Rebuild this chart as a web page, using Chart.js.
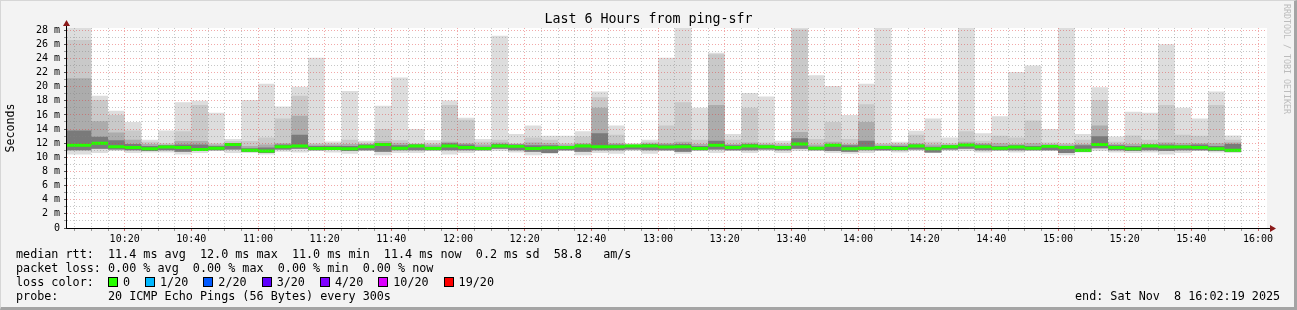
<!DOCTYPE html>
<html>
<head>
<meta charset="utf-8">
<title>Last 6 Hours from ping-sfr</title>
<script src="https://cdn.jsdelivr.net/npm/chart.js@4.4.1/dist/chart.umd.min.js"></script>
<style>
  html, body { margin: 0; padding: 0; }
  body { width: 1297px; height: 310px; overflow: hidden; background: #f3f3f3; font-family: "DejaVu Sans Mono", monospace; }
  #frame { position: absolute; left: 0; top: 0; width: 1297px; height: 310px; box-sizing: border-box;
           border-top: 1px solid #d6d6d6; border-left: 1px solid #d6d6d6;
           border-right: 3px solid #a4a4a4; border-bottom: 3px solid #a4a4a4; pointer-events: none; }
  #chart { position: absolute; left: 0; top: 0; }
  .txt { position: absolute; white-space: pre; color: #000; font-size: 11.75px; line-height: 14px; }
  #title { left: 0; width: 1297px; top: 11px; text-align: center; font-size: 13.3px; line-height: 16px; }
  #ylabel { left: 10px; top: 128px; transform: translate(-50%, -50%) rotate(-90deg); font-size: 11.6px; }
  #vendor { left: 1282px; top: 4px; writing-mode: vertical-rl; font-size: 8.3px; line-height: 10px; color: #bcbcbc; }
  .box { display: inline-block; width: 8px; height: 8px; border: 1px solid #000; vertical-align: -1px; margin-right: 5px; }
  .lab { margin-right: 15px; }
</style>
</head>
<body>
<canvas id="chart" width="1297" height="310"></canvas>
<div id="frame"></div>
<div class="txt" id="title">Last 6 Hours from ping-sfr</div>
<div class="txt" id="ylabel">Seconds</div>
<div class="txt" id="vendor">RRDTOOL / TOBI OETIKER</div>
<div class="txt" style="left:16px;top:247px">median rtt:  11.4 ms avg  12.0 ms max  11.0 ms min  11.4 ms now  0.2 ms sd  58.8   am/s</div>
<div class="txt" style="left:16px;top:261px">packet loss: 0.00 % avg  0.00 % max  0.00 % min  0.00 % now</div>
<div class="txt" style="left:16px;top:275px">loss color:  <span id="lossKey"></span></div>
<div class="txt" style="left:16px;top:289px">probe:       20 ICMP Echo Pings (56 Bytes) every 300s</div>
<div class="txt" style="left:1075px;top:289px">end: Sat Nov  8 16:02:19 2025</div>
<script>
///////////////////////
// 데이터 (ms)
///////////////////////
// 시간축: 10:00 기준 분
const START = 2.7;
const END = 362.7;
const binEnds = [];
for (let t = 5; t <= 355; t += 5) binEnds.push(t);   // 5분 간격, 71개

const xTickValues = [20, 40, 60, 80, 100, 120, 140, 160, 180, 200, 220, 240, 260, 280, 300, 320, 340, 360];
const xTickLabels = ['10:20', '10:40', '11:00', '11:20', '11:40', '12:00', '12:20', '12:40', '13:00',
                     '13:20', '13:40', '14:00', '14:20', '14:40', '15:00', '15:20', '15:40', '16:00'];
const yTickValues = [0, 2, 4, 6, 8, 10, 12, 14, 16, 18, 20, 22, 24, 26, 28];
const yTickLabels = ['0', '2 m', '4 m', '6 m', '8 m', '10 m', '12 m', '14 m', '16 m', '18 m', '20 m', '22 m', '24 m', '26 m', '28 m'];

// smoke: 가장 바깥(min~max)부터 안쪽으로
const maxRtt = [28.3, 18.7, 16.6, 15.0, 12.5, 13.8, 17.8, 18.0, 16.3, 12.6,
                18.1, 20.4, 17.2, 20.0, 24.1, 12.25, 19.4, 12.35, 17.3, 21.3,
                14.0, 12.4, 18.05, 15.6, 12.6, 27.2, 13.3, 14.5, 13.05, 13.05,
                13.7, 19.3, 14.5, 12.0, 12.5, 24.1, 28.4, 17.0, 24.8, 13.3,
                19.1, 18.6, 12.35, 28.4, 21.6, 20.1, 16.0, 20.4, 28.4, 12.2,
                13.76, 15.5, 12.8, 28.4, 13.4, 15.8, 22.06, 23.0, 14.0, 28.4,
                13.3, 19.9, 12.96, 16.45, 16.3, 26.0, 17.0, 15.5, 19.3, 13.1, 18.7];
const hi2 = [26.6, 18.1, 16.0, 13.8, 12.2, 12.0, 13.7, 17.4, 12.0, 12.3,
             12.3, 12.8, 15.5, 18.7, 12.0, 12.0, 12.5, 12.1, 14.0, 12.4,
             12.0, 12.0, 17.4, 15.3, 12.2, 12.5, 12.0, 12.8, 12.5, 12.0,
             12.96, 18.5, 13.2, 11.9, 12.2, 14.5, 17.8, 12.5, 24.6, 12.5,
             17.0, 12.1, 12.0, 28.1, 12.6, 15.0, 12.6, 17.5, 12.0, 12.0,
             13.2, 12.2, 12.0, 13.7, 12.35, 13.05, 12.8, 15.2, 12.1, 12.0,
             12.5, 18.1, 12.2, 13.1, 12.5, 17.4, 13.2, 13.05, 17.4, 12.5, 15.8];
const hi3 = [21.2, 15.1, 13.5, 12.5, 11.9, 11.8, 12.3, 12.3, 11.8, 12.0,
             11.6, 11.8, 12.0, 15.9, 11.8, 11.8, 11.9, 11.9, 12.3, 12.0,
             11.9, 11.8, 12.2, 12.0, 11.8, 12.1, 11.9, 12.1, 12.0, 11.8,
             12.0, 17.0, 12.0, 11.8, 12.0, 12.0, 12.2, 11.9, 17.4, 11.9,
             12.1, 11.9, 11.8, 13.6, 11.8, 12.2, 11.9, 15.0, 11.8, 11.8,
             12.0, 11.8, 11.8, 12.2, 12.0, 12.0, 11.9, 12.0, 11.9, 11.8,
             11.9, 14.5, 11.9, 11.9, 11.9, 12.1, 12.0, 12.0, 12.0, 12.1, 13.3];
const core = [13.8, 12.9, 12.4, 11.9, 11.6, 11.7, 11.8, 11.8, 11.6, 11.9,
              11.3, 11.4, 11.8, 13.2, 11.6, 11.6, 11.6, 11.8, 12.0, 11.7,
              11.8, 11.5, 12.0, 11.8, 11.5, 11.9, 11.8, 11.7, 11.7, 11.6,
              11.8, 13.4, 11.8, 11.7, 11.9, 11.8, 11.9, 11.6, 12.35, 11.7,
              11.9, 11.7, 11.6, 12.7, 11.5, 11.9, 11.7, 12.35, 11.6, 11.6,
              11.8, 11.5, 11.7, 11.9, 11.8, 11.6, 11.7, 11.6, 11.7, 11.6,
              11.7, 13.0, 11.7, 11.6, 11.8, 11.8, 11.7, 11.8, 11.6, 11.9, 12.0];
const medians = [11.7, 12.0, 11.5, 11.4, 11.2, 11.45, 11.4, 11.1, 11.3, 11.8,
                 11.0, 10.9, 11.5, 11.6, 11.25, 11.25, 11.2, 11.5, 11.8, 11.3,
                 11.6, 11.25, 11.6, 11.4, 11.25, 11.6, 11.55, 11.25, 11.35, 11.4,
                 11.6, 11.5, 11.5, 11.6, 11.6, 11.45, 11.5, 11.25, 11.7, 11.4,
                 11.6, 11.5, 11.4, 11.9, 11.3, 11.7, 11.2, 11.3, 11.4, 11.25,
                 11.6, 11.2, 11.5, 11.75, 11.5, 11.3, 11.45, 11.3, 11.55, 11.4,
                 11.0, 11.8, 11.4, 11.2, 11.6, 11.45, 11.45, 11.4, 11.2, 11.0, 11.4];
const lo = [11.0, 11.2, 11.1, 11.0, 10.9, 11.0, 10.8, 10.9, 11.0, 11.1,
            10.8, 10.6, 11.1, 11.2, 11.0, 11.1, 10.9, 11.0, 10.8, 11.0,
            11.0, 11.0, 11.0, 11.0, 11.0, 11.2, 11.0, 10.8, 10.6, 11.0,
            10.8, 11.0, 11.0, 11.1, 11.0, 11.0, 10.8, 11.0, 11.1, 11.0,
            11.0, 11.1, 11.0, 11.2, 11.0, 10.9, 10.8, 11.0, 11.0, 11.0,
            11.1, 10.7, 11.1, 11.2, 11.0, 11.0, 11.0, 11.0, 11.0, 10.6,
            10.8, 11.3, 11.0, 10.9, 11.0, 10.9, 11.0, 11.0, 10.9, 10.8, 11.0];
const minRtt = [10.4, 10.6, 10.9, 10.6, 10.7, 10.7, 10.4, 10.6, 10.9, 10.6,
                10.6, 10.4, 10.8, 10.7, 10.9, 10.7, 10.5, 10.9, 10.3, 10.6,
                10.6, 10.9, 10.4, 10.6, 10.9, 10.9, 10.7, 10.3, 10.5, 10.9,
                10.3, 10.6, 10.5, 10.9, 10.5, 10.9, 10.5, 10.9, 10.6, 10.9,
                10.6, 10.9, 10.6, 10.9, 10.9, 10.6, 10.5, 10.6, 10.9, 10.7,
                10.9, 10.6, 10.9, 10.9, 10.7, 10.9, 10.7, 10.9, 10.9, 10.3,
                10.7, 10.9, 10.7, 10.6, 10.7, 10.4, 10.6, 10.9, 10.7, 10.6, 10.6];

const lossLabels = ['0', '1/20', '2/20', '3/20', '4/20', '10/20', '19/20'];
const lossColors = ['#26ff00', '#00b8ff', '#0059ff', '#5e00ff', '#7e00ff', '#dd00ff', '#ff0000'];

///////////////////////
// 스타일
///////////////////////
const MED_HALF = 0.21;          // median 띠 두께의 절반 (ms)
const MONO = '"DejaVu Sans Mono", monospace';
const MAJOR_GRID = 'rgba(225, 50, 50, 0.42)';
const MINOR_GRID = 'rgba(130, 130, 130, 0.45)';

// loss color 범례
document.getElementById('lossKey').innerHTML = lossLabels.map((l, i) =>
    `<span class="box" style="background:${lossColors[i]}"></span><span class="lab">${l}</span>`).join('');

// 계단형 포인트 (각 구간 끝 시각 기준, 첫 구간은 START 부터)
function stepPoints(vals) {
    return [{ x: START, y: vals[0] }].concat(binEnds.map((t, i) => ({ x: t, y: vals[i] })));
}

function band(label, vals, color, fillTarget, order) {
    return {
        label,
        data: stepPoints(vals),
        stepped: 'before',
        borderWidth: 0,
        borderColor: 'rgba(0,0,0,0)',
        backgroundColor: color,
        pointRadius: 0,
        pointHoverRadius: 0,
        fill: fillTarget,
        order
    };
}

const datasets = [
    band('max', maxRtt, '#dddddd', 1, 4),                    // 0
    band('min', minRtt, 'rgba(0,0,0,0)', false, 9),          // 1
    band('hi2', hi2, '#c9c9c9', 5, 3),                       // 2
    band('hi3', hi3, '#acacac', 5, 2),                       // 3
    band('core', core, '#7a7a7a', 5, 1),                     // 4
    band('lo', lo, 'rgba(0,0,0,0)', false, 9),               // 5
    band('median', medians.map(m => m + MED_HALF), lossColors[0], 7, 0),   // 6
    band('medBot', medians.map(m => m - MED_HALF), 'rgba(0,0,0,0)', false, 9)  // 7
];

// 배경, 축, 화살표
const rrdFrame = {
    id: 'rrdFrame',
    beforeDraw(chart) {
        const { ctx, chartArea: a } = chart;
        ctx.save();
        ctx.fillStyle = '#ffffff';
        ctx.fillRect(a.left, a.top, a.right - a.left, a.bottom - a.top);
        ctx.restore();
    },
    afterDraw(chart) {
        const { ctx, chartArea: a } = chart;
        const x0 = Math.round(a.left) - 0.5;
        const y0 = Math.round(a.bottom) + 0.5;
        ctx.save();
        ctx.strokeStyle = '#000';
        ctx.lineWidth = 1;
        ctx.beginPath();
        ctx.moveTo(x0, y0); ctx.lineTo(x0, a.top - 3);
        ctx.moveTo(x0, y0); ctx.lineTo(a.right + 3, y0);
        ctx.stroke();
        ctx.fillStyle = '#8b1a1a';
        ctx.beginPath();
        ctx.moveTo(x0, a.top - 8); ctx.lineTo(x0 - 3.5, a.top - 2); ctx.lineTo(x0 + 3.5, a.top - 2);
        ctx.closePath(); ctx.fill();
        ctx.beginPath();
        ctx.moveTo(a.right + 9, y0); ctx.lineTo(a.right + 3, y0 - 3.5); ctx.lineTo(a.right + 3, y0 + 3.5);
        ctx.closePath(); ctx.fill();
        ctx.restore();
    }
};

const xMinor = [];
for (let t = 5; t <= 360; t += 5) xMinor.push(t);
const yMinor = [];
for (let v = 0; v <= 28; v += 1) yMinor.push(v);

new Chart(document.getElementById('chart').getContext('2d'), {
    type: 'line',
    data: { datasets },
    options: {
        responsive: false,
        animation: false,
        events: [],
        layout: { padding: { top: 28, right: 30, left: 0, bottom: 0 } },
        plugins: { legend: { display: false }, tooltip: { enabled: false }, title: { display: false } },
        scales: {
            x: {
                type: 'linear',
                min: START,
                max: END,
                afterBuildTicks: s => { s.ticks = xMinor.map(v => ({ value: v })); },
                afterFit: s => { s.height = 82; },
                ticks: {
                    autoSkip: false,
                    maxRotation: 0,
                    padding: 2,
                    color: '#000',
                    font: { family: MONO, size: 10 },
                    callback: v => { const i = xTickValues.indexOf(v); return i >= 0 ? xTickLabels[i] : ''; }
                },
                grid: {
                    z: 1,
                    lineWidth: 1,
                    color: c => (c.tick && c.tick.value % 20 === 0) ? MAJOR_GRID : MINOR_GRID,
                    tickLength: 3,
                    tickColor: c => (c.tick && c.tick.value % 20 === 0) ? '#c86464' : '#9a9a9a'
                },
                border: { display: false, dash: [1, 2] }
            },
            y: {
                type: 'linear',
                min: 0,
                max: 28.3,
                afterBuildTicks: s => { s.ticks = yMinor.map(v => ({ value: v })); },
                afterFit: s => { s.width = 67; },
                ticks: {
                    autoSkip: false,
                    padding: 4,
                    color: '#000',
                    font: { family: MONO, size: 10 },
                    callback: v => { const i = yTickValues.indexOf(v); return i >= 0 ? yTickLabels[i] : ''; }
                },
                grid: {
                    z: 1,
                    lineWidth: 1,
                    color: c => (c.tick && c.tick.value === 0) ? 'rgba(0,0,0,0)'
                        : (c.tick && c.tick.value % 2 === 0) ? MAJOR_GRID : MINOR_GRID,
                    tickLength: 3,
                    tickColor: c => (c.tick && c.tick.value % 2 === 0) ? '#555' : '#999'
                },
                border: { display: false, dash: [1, 2] }
            }
        }
    },
    plugins: [rrdFrame]
});
</script>
</body>
</html>
